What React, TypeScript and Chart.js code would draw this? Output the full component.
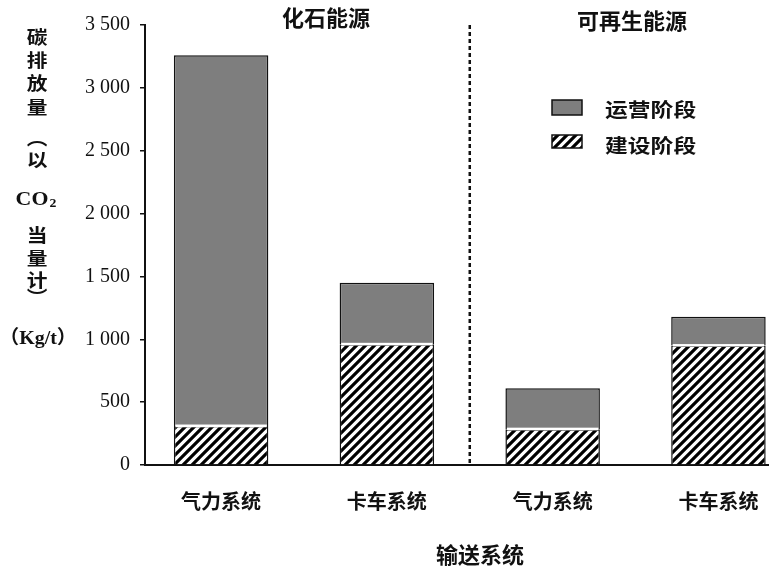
import React, { useEffect, useRef } from "react";
import Chart from "chart.js/auto";
import type { Plugin } from "chart.js";

// ---- data ----
const CATEGORIES = ["气力系统", "卡车系统", "气力系统", "卡车系统"];
const GROUPS = ["化石能源", "可再生能源"];
const SERIES_LABELS = ["运营阶段", "建设阶段"];
const CONSTRUCTION = [310, 960, 285, 950]; // 建设阶段 (hatched)
const OPERATION = [2950, 490, 325, 230]; // 运营阶段 (grey)
const Y_MAX = 3500;
const Y_STEP = 500;
const X_TITLE = "输送系统";
const Y_TITLE = ["碳", "排", "放", "量", "︵", "以", "CO2", "当", "量", "计", "︶", "（Kg/t）"];

const INK = "#111";
const GREY = "#7e7e7e";
const CJK = '"Noto Sans CJK SC", sans-serif';
const SERIF = '"Liberation Serif", "Noto Sans CJK SC", serif';

function makeHatch(): CanvasPattern | string {
  const s = 9;
  const c = document.createElement("canvas");
  c.width = s;
  c.height = s;
  const g = c.getContext("2d");
  if (!g) return "#fff";
  g.fillStyle = "#fff";
  g.fillRect(0, 0, s, s);
  g.strokeStyle = "#000";
  g.lineWidth = 3.2;
  g.beginPath();
  g.moveTo(-2, 2);
  g.lineTo(2, -2);
  g.moveTo(-1, s + 1);
  g.lineTo(s + 1, -1);
  g.moveTo(s - 2, s + 2);
  g.lineTo(s + 2, s - 2);
  g.stroke();
  return g.createPattern(c, "repeat") ?? "#fff";
}

function fmtTick(v: number) {
  if (v < 1000) return String(v);
  return `${Math.floor(v / 1000)} ${String(v % 1000).padStart(3, "0")}`;
}

function text(
  ctx: CanvasRenderingContext2D,
  t: string,
  x: number,
  y: number,
  font: string,
  align: CanvasTextAlign = "center",
  sx = 1
) {
  ctx.save();
  ctx.translate(x, y);
  ctx.scale(sx, 1);
  ctx.font = font;
  ctx.textAlign = align;
  ctx.textBaseline = "middle";
  ctx.fillStyle = INK;
  ctx.fillText(t, 0, 0);
  ctx.restore();
}

export default function App() {
  const canvasRef = useRef<HTMLCanvasElement | null>(null);

  useEffect(() => {
    const ctx = canvasRef.current?.getContext("2d");
    if (!ctx) return;
    const hatch = makeHatch();

    // thin white seam between the hatched and grey parts of each bar
    const seam: Plugin<"bar"> = {
      id: "seam",
      afterDatasetsDraw(c) {
        const g = c.ctx;
        const meta = c.getDatasetMeta(0);
        g.save();
        g.fillStyle = "#fff";
        meta.data.forEach((el: any) => {
          const { x, y, width } = el.getProps(["x", "y", "width"], true);
          g.fillRect(x - width / 2 + 1.5, y - 1.5, width - 3, 2.5);
        });
        g.restore();
      },
    };

    // titles, separator, legend, y title — painted on top of the chart
    const extras: Plugin<"bar"> = {
      id: "extras",
      afterDraw(c) {
        const g = c.ctx;
        const { top, bottom } = c.chartArea;
        const xs: any = c.scales.x;

        // dotted separator between the two groups
        const sepX = xs.getPixelForValue(2.5);
        g.save();
        g.strokeStyle = INK;
        g.lineWidth = 2.5;
        g.setLineDash([4, 3]);
        g.beginPath();
        g.moveTo(sepX, top);
        g.lineTo(sepX, bottom - 2);
        g.stroke();
        g.restore();

        // group headers
        text(g, GROUPS[0], 326, 18, `bold 22px ${CJK}`);
        text(g, GROUPS[1], 632, 21, `bold 22px ${CJK}`);

        // legend
        g.save();
        g.lineWidth = 1.5;
        g.strokeStyle = INK;
        g.fillStyle = GREY;
        g.fillRect(552, 100, 30, 15);
        g.strokeRect(552, 100, 30, 15);
        g.fillStyle = hatch as any;
        g.fillRect(552, 135, 30, 13);
        g.strokeRect(552, 135, 30, 13);
        g.restore();
        text(g, SERIES_LABELS[0], 605, 110, `bold 19px ${CJK}`, "left", 1.2);
        text(g, SERIES_LABELS[1], 605, 146, `bold 19px ${CJK}`, "left", 1.2);

        // y title, stacked vertically
        const ys = [37, 60, 83, 107, 138, 160, 200, 235, 258, 280, 297, 339];
        Y_TITLE.forEach((t, i) => {
          const y = ys[i];
          if (t === "CO2") {
            text(g, "CO", 32, y, `bold 19px ${SERIF}`, "center", 1.15);
            text(g, "2", 53, y + 4, `bold 12px ${SERIF}`, "center", 1.15);
          } else if (t.startsWith("（")) {
            text(g, t, 38, y, `bold 19px ${SERIF}`, "center", 1.05);
          } else {
            text(g, t, 37, y, `bold 18px ${CJK}`, "center", 1.15);
          }
        });

        // x title
        text(g, X_TITLE, 480, 555, `bold 22px ${CJK}`);
      },
    };

    const chart = new Chart(ctx, {
      type: "bar",
      data: {
        datasets: [
          {
            label: SERIES_LABELS[1],
            data: CONSTRUCTION.map((v, i) => ({ x: i + 1, y: v })),
            backgroundColor: hatch as any,
            borderColor: INK,
            borderWidth: 1.5,
            stack: "s",
          },
          {
            label: SERIES_LABELS[0],
            data: OPERATION.map((v, i) => ({ x: i + 1, y: v })),
            backgroundColor: GREY,
            borderColor: INK,
            borderWidth: 1.5,
            stack: "s",
          },
        ],
      },
      options: {
        animation: false,
        responsive: false,
        layout: { padding: { top: 25, left: 0, right: 0, bottom: 0 } },
        datasets: { bar: { barPercentage: 0.57, categoryPercentage: 1 } },
        scales: {
          x: {
            type: "linear",
            min: 0.541,
            max: 4.305,
            offset: false,
            stacked: true,
            ticks: {
              stepSize: 1,
              includeBounds: false,
              autoSkip: false,
              maxRotation: 0,
              padding: 24,
              color: INK,
              font: { family: CJK, size: 20, weight: "bold" },
              callback: (v: any) => CATEGORIES[Number(v) - 1] ?? "",
            },
            grid: { display: false, drawTicks: false },
            border: { display: true, color: INK, width: 2 },
            afterFit: (s: any) => {
              s.height = 106;
              s.paddingLeft = 0;
              s.paddingRight = 0;
            },
          },
          y: {
            stacked: true,
            min: 0,
            max: Y_MAX,
            ticks: {
              stepSize: Y_STEP,
              padding: 10,
              color: INK,
              font: { family: SERIF, size: 20 },
              callback: (v: any) => fmtTick(Number(v)),
            },
            grid: { drawOnChartArea: false, drawTicks: true, tickLength: 5, color: INK, lineWidth: 1.5 },
            border: { color: INK, width: 2 },
            afterFit: (s: any) => {
              s.width = 145;
              s.paddingTop = 0;
              s.paddingBottom = 0;
            },
          },
        },
        plugins: { legend: { display: false }, tooltip: { enabled: false } },
      },
      plugins: [seam, extras],
    });

    return () => chart.destroy();
  }, []);

  return (
    <div style={{ position: "absolute", left: 0, top: 0, width: 769, height: 571, background: "#fff" }}>
      <canvas ref={canvasRef} width={769} height={571} style={{ display: "block" }} />
    </div>
  );
}
